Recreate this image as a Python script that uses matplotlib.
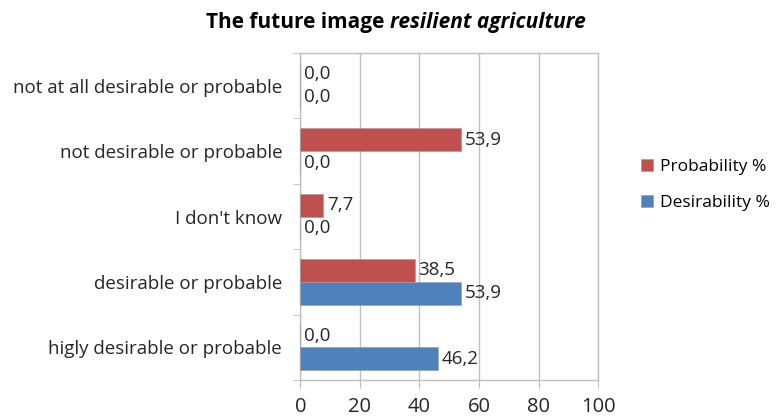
import matplotlib
matplotlib.use("Agg")
import matplotlib.pyplot as plt
import numpy as np

categories = ["higly desirable or probable", "desirable or probable", "I don't know",
              "not desirable or probable", "not at all desirable or probable"]
probability = [0.0, 38.5, 7.7, 53.9, 0.0]
desirability = [46.2, 53.9, 0.0, 0.0, 0.0]
xticks = [0, 20, 40, 60, 80, 100]

plt.rcParams['font.family'] = ['Open Sans', 'DejaVu Sans']
RED = "#C0504D"
BLUE = "#4F81BD"
GRID = "#BFBFBF"
TXT = "#262626"
FS = 13.5

fig = plt.figure(figsize=(7.82, 4.16), dpi=100)
ax = fig.add_axes([0.384, 0.0865, 0.381, 0.786])

y = np.arange(len(categories))
h = 0.35
bd = ax.barh(y - h / 2, desirability, height=h, color=BLUE, edgecolor="#A0A0A0", linewidth=0.5,
             label="Desirability %", zorder=3)
bp = ax.barh(y + h / 2, probability, height=h, color=RED, edgecolor="#A0A0A0", linewidth=0.5,
             label="Probability %", zorder=3)

fmt = lambda v: f"{v:.1f}".replace(".", ",")
for bars, vals in ((bd, desirability), (bp, probability)):
    for b, v in zip(bars, vals):
        ax.annotate(fmt(v), (v, b.get_y() + b.get_height() / 2), xytext=(2.5, 0),
                    textcoords="offset points", va="center", ha="left",
                    fontsize=FS, color=TXT)

ax.set_xlim(0, 100)
ax.set_ylim(-0.5, len(categories) - 0.5)
ax.set_xticks(xticks)
ax.set_xticklabels([str(t) for t in xticks], fontsize=14.5, color=TXT)
ax.set_yticks(y)
ax.set_yticklabels(categories, fontsize=FS, color=TXT)
ax.set_yticks(np.arange(-0.5, len(categories), 1.0), minor=True)
ax.tick_params(axis="y", which="major", length=0, pad=13)
ax.tick_params(axis="y", which="minor", length=5, color=GRID)
ax.tick_params(axis="x", length=6, color=GRID, pad=6)
ax.xaxis.grid(True, color=GRID, linewidth=1, zorder=0)
for s in ax.spines.values():
    s.set_color(GRID)
    s.set_linewidth(1)

# Title: upright bold lead-in followed by a bold italic phrase, centred as one line
t1 = fig.text(0, 0.947, "The future image ", fontsize=15, fontweight="bold",
              va="center", ha="left", color="black")
t2 = fig.text(0, 0.947, "resilient agriculture", fontsize=15, fontweight="bold",
              style="italic", va="center", ha="left", color="black")
fig.canvas.draw()
r = fig.canvas.get_renderer()
w1 = t1.get_window_extent(r).width
w2 = t2.get_window_extent(r).width
W = fig.bbox.width
x0 = 0.506 * W - (w1 + w2) / 2
t1.set_x(x0 / W)
t2.set_x((x0 + w1) / W)

handles = [bp, bd]
fig.legend(handles, [hh.get_label() for hh in handles], loc="center left",
           bbox_to_anchor=(0.82, 0.555), frameon=False, fontsize=12.5,
           borderpad=0, borderaxespad=0,
           handlelength=0.7, handleheight=0.7, handletextpad=0.4, labelspacing=1.15)

fig.savefig("out.png", dpi=100, facecolor="white")
